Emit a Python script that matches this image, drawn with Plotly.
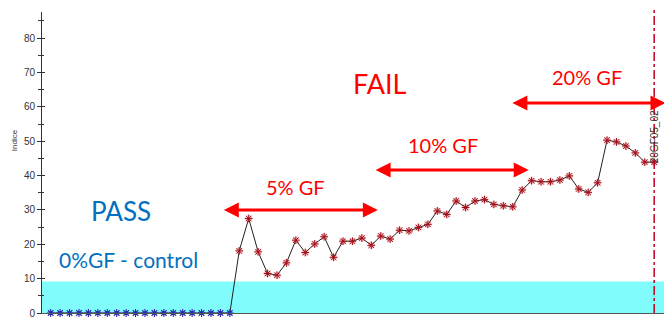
import plotly.graph_objects as go

# ---- data ----
control_values = [0] * 20
sample_values = [18.1, 27.5, 17.8, 11.5, 11.0, 14.6, 21.2, 17.6, 20.1, 22.2,
                 16.2, 20.9, 20.9, 21.8, 19.7, 22.4, 21.5, 24.1, 23.9, 24.9,
                 25.8, 29.7, 28.7, 32.6, 30.7, 32.6, 33.0, 31.6, 31.2, 30.9,
                 35.8, 38.5, 38.2, 38.2, 38.7, 39.9, 36.1, 35.1, 37.9, 50.3,
                 49.8, 48.6, 46.6, 43.9, 43.9]
threshold = 9.2
y_ticks = [0, 10, 20, 30, 40, 50, 60, 70, 80]
marker_label = "20GF05_02"

all_values = control_values + sample_values
x_all = list(range(len(all_values)))
x_ctrl = x_all[:len(control_values)]
x_samp = x_all[len(control_values):]
last_x = x_all[-1]

RED = "#ff0000"
BLUE_TXT = "#0070c0"
DARK_RED = "#a0101c"
STAR_BLUE = "#2828b0"

fig = go.Figure()

# connecting line
fig.add_trace(go.Scatter(x=x_all, y=all_values, mode="lines",
                         line=dict(color="#222222", width=1), hoverinfo="skip",
                         showlegend=False, cliponaxis=False))
# red glow + stars
fig.add_trace(go.Scatter(x=x_samp, y=sample_values, mode="markers",
                         marker=dict(symbol="circle", size=7, color="rgba(235,80,80,0.35)",
                                     line=dict(width=0)),
                         showlegend=False, hoverinfo="skip", cliponaxis=False))
fig.add_trace(go.Scatter(x=x_samp, y=sample_values, mode="markers",
                         marker=dict(symbol="asterisk-open", size=6.5, color=DARK_RED,
                                     line=dict(color=DARK_RED, width=1)),
                         showlegend=False, cliponaxis=False))
# blue control stars
fig.add_trace(go.Scatter(x=x_ctrl, y=control_values, mode="markers",
                         marker=dict(symbol="asterisk-open", size=6.5, color=STAR_BLUE,
                                     line=dict(color=STAR_BLUE, width=1.1)),
                         showlegend=False, cliponaxis=False))
# dummy trace for the inner-tick overlay axis
fig.add_trace(go.Scatter(x=[0], y=[0], yaxis="y2", mode="markers",
                         marker=dict(opacity=0), showlegend=False, hoverinfo="skip"))

XR = [-0.92, 65.04]
YR = [0, 87.6]

fig.update_layout(
    width=664, height=318,
    margin=dict(l=42, r=0, t=12, b=5),
    paper_bgcolor="white", plot_bgcolor="white",
    xaxis=dict(range=XR, showgrid=False, zeroline=False, showticklabels=False,
               ticks="", showline=True, linecolor="#555555", linewidth=1),
    yaxis=dict(range=YR, tickvals=y_ticks, showgrid=False, zeroline=False,
               showline=True, linecolor="#333333", linewidth=1,
               ticks="outside", ticklen=4, tickcolor="#333333",
               ticklabeloverflow="allow",
               minor=dict(dtick=5, tick0=0, ticks="outside", ticklen=3, tickcolor="#333333"),
               tickfont=dict(family="Liberation Sans Narrow, Liberation Sans, Arial", size=10, color="#333333")),
    yaxis2=dict(range=YR, overlaying="y", side="left", tickvals=y_ticks,
                showticklabels=False, showgrid=False, zeroline=False, showline=False,
                ticks="inside", ticklen=3, tickcolor="#333333",
                minor=dict(dtick=5, tick0=0, ticks="inside", ticklen=2, tickcolor="#333333")),
    shapes=[
        dict(type="rect", xref="paper", yref="y", x0=0, x1=1, y0=0, y1=threshold,
             fillcolor="#80fcfc", line=dict(width=0), layer="below"),
        dict(type="line", xref="x", yref="paper", x0=last_x, x1=last_x, y0=0, y1=1.01,
             line=dict(color="#c00020", width=1.5, dash="dashdot")),
    ],
)

font_main = "Lato, Open Sans, sans-serif"
texts = [
    ("PASS", 7.45, 29.6, 26, BLUE_TXT),
    ("0%GF - control", 8.2, 15.6, 21, BLUE_TXT),
    ("5% GF", 26.0, 36.6, 20, RED),
    ("10% GF", 41.6, 48.9, 20, RED),
    ("20% GF", 56.9, 68.6, 20, RED),
    ("FAIL", 34.9, 66.8, 27, RED),
]
for t, x, y, s, c in texts:
    fig.add_annotation(x=x, y=y, text=t, showarrow=False,
                       font=dict(family=font_main, size=s, color=c),
                       xanchor="center", yanchor="middle")

arrows = [(18.2, 34.7, 30.0), (34.3, 50.7, 41.6), (48.8, 65.2, 61.1)]
for x0, x1, y in arrows:
    fig.add_annotation(x=x1, y=y, ax=x0, ay=y, axref="x", ayref="y",
                       xref="x", yref="y", text="", showarrow=True,
                       arrowhead=2, startarrowhead=2, arrowside="end+start",
                       arrowwidth=3, arrowsize=1, startarrowsize=1,
                       arrowcolor=RED, standoff=0, startstandoff=0)

fig.add_annotation(x=last_x, y=51.2, text=marker_label, showarrow=False, textangle=-90,
                   font=dict(family="Liberation Sans Narrow, Liberation Sans", size=10, color="#333333"),
                   xanchor="center", yanchor="middle")
fig.add_annotation(xref="paper", x=-0.045, y=50.3, text="Indice", showarrow=False,
                   textangle=-90, font=dict(family="Liberation Sans, Arial", size=8, color="#333333"),
                   xanchor="center", yanchor="middle")

fig.write_html("out.html", config={"displayModeBar": False})

# remove the default page margin so the figure sits at the window's top-left corner
with open("out.html", "r", encoding="utf-8") as f:
    html = f.read()
html = html.replace("<head>", "<head><style>html,body{margin:0;padding:0;overflow:hidden;}</style>", 1)
with open("out.html", "w", encoding="utf-8") as f:
    f.write(html)
